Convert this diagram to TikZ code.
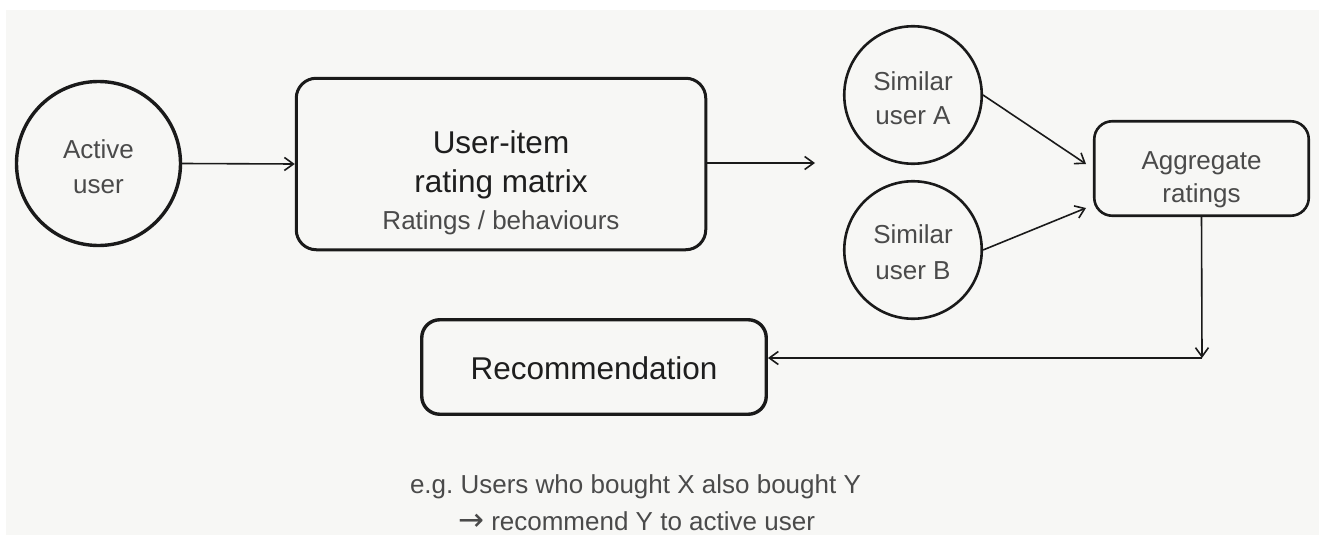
\documentclass[tikz,border=0pt]{standalone}
\usepackage{fontspec}
\setmainfont{Liberation Sans}
\newfontfamily\arrowfont{DejaVu Sans}
\usetikzlibrary{arrows.meta}

\definecolor{paper}{HTML}{F7F7F5}
\definecolor{ink}{HTML}{1A1A1A}
\definecolor{titletext}{HTML}{1E1E1E}
\definecolor{bodytext}{HTML}{4A4A4A}

\tikzset{
  userdisc/.style={circle, draw=ink, inner sep=0pt, minimum size=#1},
  panel/.style={rectangle, rounded corners=18pt, draw=ink, inner sep=0pt},
  lbl/.style={anchor=base, inner sep=0pt, text=bodytext, font=\fontsize{26}{30}\selectfont},
  ttl/.style={anchor=base, inner sep=0pt, text=titletext, font=\fontsize{31.5}{36}\selectfont},
  flow/.style={draw=ink, line width=1.6pt, -{Straight Barb[length=9pt,width=13pt,line width=1.6pt]}},
}

\begin{document}
\frenchspacing
\begin{tikzpicture}[x=1pt, y=-1pt]
  \useasboundingbox (0,0) rectangle (1319,535);
  \fill[white] (0,0) rectangle (1319,535);
  \fill[paper] (6,10) rectangle (1319,535);

  % shapes
  \node[userdisc=164pt, line width=3.4pt] (active) at (98.5,163.5) {};
  \node[panel, line width=3pt, rounded corners=20pt, minimum width=409.5pt, minimum height=171.5pt] (matrix) at (501,164) {};
  \node[userdisc=137.5pt, line width=2.6pt] (simA) at (913,95) {};
  \node[userdisc=137.5pt, line width=2.6pt] (simB) at (913,250) {};
  \node[panel, line width=2.6pt, minimum width=214.5pt, minimum height=94.5pt] (agg) at (1201.5,168.5) {};
  \node[panel, line width=3.4pt, minimum width=344.5pt, minimum height=94.5pt] (rec) at (594,367) {};

  % texts
  \node[lbl] (activeA) at (98.5,158) {Active};
  \node[lbl] (activeB) at (98.5,193) {user};
  \node[ttl] (matrixA) at (501,153) {User-item};
  \node[ttl] (matrixB) at (501,192) {rating matrix};
  \node[lbl] (matrixC) at (501,229) {Ratings / behaviours};
  \node[lbl] (simAa) at (913,90) {Similar};
  \node[lbl] (simAb) at (913,124) {user A};
  \node[lbl] (simBa) at (913,243) {Similar};
  \node[lbl] (simBb) at (913,279) {user B};
  \node[lbl] (aggA) at (1201.5,169) {Aggregate};
  \node[lbl] (aggB) at (1201.5,202) {ratings};
  \node[ttl] (recT) at (594,379) {Recommendation};
  \node[lbl] (noteA) at (635.5,493) {e.g. Users who bought X also bought Y};
  \node[lbl] (noteB) at (636.5,530) {{\arrowfont\fontsize{31}{30}\selectfont →} recommend Y to active user};

  % connector end points
  \coordinate (matrixOut) at (815,163);
  \coordinate (aggInA) at (1086,164);
  \coordinate (aggInB) at (1086,208);
  \coordinate (turn) at (1202,358);

  % connectors
  \draw[flow] (active.east) -- (matrix.west);
  \draw[flow] (matrix.east |- matrixOut) -- (matrixOut);
  \draw[flow] (simA.east) -- (aggInA);
  \draw[flow] (simB.east) -- (aggInB);
  \draw[flow] (agg.south) -- (turn);
  \draw[flow] (turn) -- (turn -| rec.east);
\end{tikzpicture}
\end{document}
